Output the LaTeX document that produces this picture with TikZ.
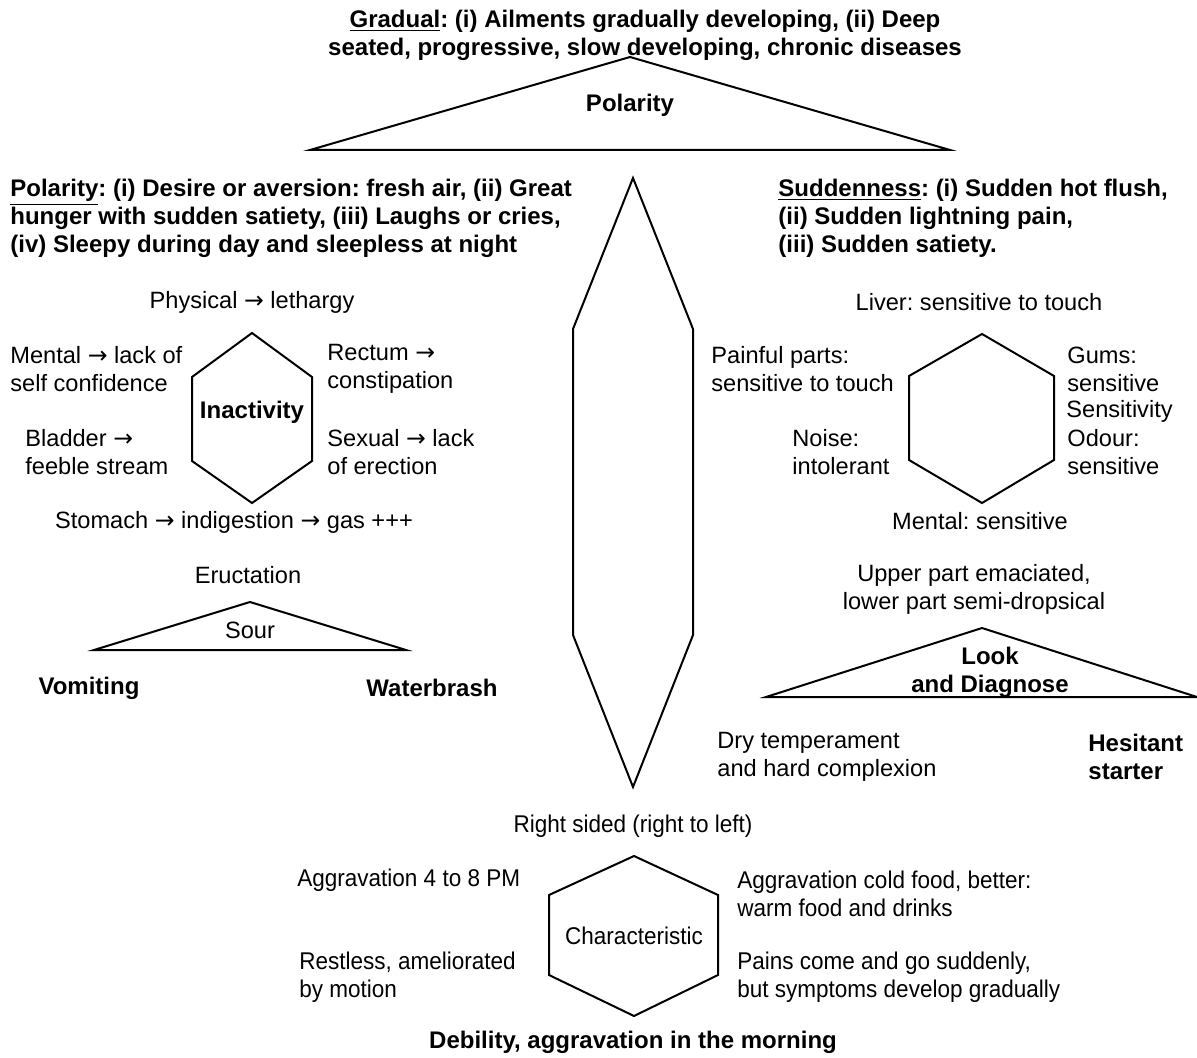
\documentclass[tikz,border=0pt]{standalone}
\usepackage{fontspec}
\setmainfont{Liberation Sans}
\newfontfamily\arrowfont{DejaVu Sans}
\newfontfamily\narrowfont[FakeStretch=0.93]{Liberation Sans}
\usepackage{tikz}
\frenchspacing
\newcommand{\ra}{{\arrowfont\char"2192}}
\tikzset{txt/.style={font=\fontsize{11.8}{14}\selectfont, inner sep=0pt, align=left},
  btxt/.style={font=\fontsize{12}{14}\selectfont\bfseries, inner sep=0pt, align=left},
  ctxt/.style={font=\fontsize{11.8}{14}\selectfont, inner sep=0pt, align=center},
  cbtxt/.style={font=\fontsize{12}{14}\selectfont\bfseries, inner sep=0pt, align=center},
  ntxt/.style={font=\narrowfont\fontsize{12.1}{14.2}\selectfont, inner sep=0pt, align=left},
  outline/.style={line width=1pt, line join=miter}}

\begin{document}
\begin{tikzpicture}[x=0.5pt,y=-0.5pt]
\useasboundingbox (0,0) rectangle (1197,1058);
\draw[outline] (310,150)--(630,57)--(950,150)--cycle;
\draw[outline] (633,178)--(693,329)--(693,635)--(633,787)--(573,635)--(573,329)--cycle;
\draw[outline] (252,333)--(312,377)--(312,461)--(252,503)--(192,461)--(192,377)--cycle;
\draw[outline] (982,334)--(1054,376)--(1054,460)--(982,503)--(909,460)--(909,376)--cycle;
\draw[outline] (634,856)--(718,895)--(718,975)--(634,1016)--(549,975)--(549,895)--cycle;
\draw[outline] (94,650)--(250,602)--(406,650)--cycle;
\draw[outline] (766,697)--(982,628)--(1197,697)--cycle;

\node[cbtxt] (gradual) at (645,35) {\underline{Gradual}: (i) Ailments gradually developing, (ii) Deep\\seated, progressive, slow developing, chronic diseases};
\node[cbtxt] (polarity) at (630,105) {Polarity};
\node[btxt, anchor=west] (polarityhead) at (10,218) {\underline{Polarity}: (i) Desire or aversion: fresh air, (ii) Great\\hunger with sudden satiety, (iii) Laughs or cries,\\(iv) Sleepy during day and sleepless at night};
\node[btxt, anchor=west] (suddenhead) at (778,218) {\underline{Suddenness}: (i) Sudden hot flush,\\(ii) Sudden lightning pain,\\(iii) Sudden satiety.};

\node[ctxt] (physical) at (252,302) {Physical \ra\ lethargy};
\node[cbtxt] (inactivity) at (252,412) {Inactivity};
\node[txt, anchor=west] (mental) at (10,369) {Mental \ra\ lack of\\self confidence};
\node[txt, anchor=west] (rectum) at (327,369) {Rectum \ra\\constipation};
\node[txt, anchor=west] (bladder) at (25,452) {Bladder \ra\\feeble stream};
\node[txt, anchor=west] (sexual) at (327,452) {Sexual \ra\ lack\\of erection};
\node[ctxt] (stomach) at (234,522) {Stomach \ra\ indigestion \ra\ gas +++};
\node[ctxt] (eructation) at (248,575) {Eructation};
\node[ctxt] (sour) at (250,630) {Sour};
\node[cbtxt] (vomiting) at (89,688) {Vomiting};
\node[cbtxt] (waterbrash) at (432,688) {Waterbrash};

\node[ctxt] (liver) at (979,302) {Liver: sensitive to touch};
\node[txt, anchor=west] (painful) at (711,369) {Painful parts:\\sensitive to touch};
\node[txt, anchor=west] (gums) at (1067,369) {Gums:\\sensitive};
\node[txt, anchor=west] (sensitivity) at (1066,411) {Sensitivity};
\node[txt, anchor=west] (odour) at (1067,452) {Odour:\\sensitive};
\node[txt, anchor=west] (noise) at (792,452) {Noise:\\intolerant};
\node[ctxt] (mentalsens) at (980,521) {Mental: sensitive};
\node[ctxt] (upper) at (974,589) {Upper part emaciated,\\lower part semi-dropsical};
\node[cbtxt] (look) at (990,672) {Look\\and Diagnose};
\node[txt, anchor=west] (dry) at (717,757) {Dry temperament\\and hard complexion};
\node[btxt, anchor=west] (hesitant) at (1088,757) {Hesitant\\starter};

\node[ntxt, align=center] (rightsided) at (633,826) {Right sided (right to left)};
\node[ntxt, align=center] (characteristic) at (634,936) {Characteristic};
\node[ntxt, anchor=west] (aggrpm) at (297,880) {Aggravation 4 to 8 PM};
\node[ntxt, anchor=west] (aggrcold) at (737,894) {Aggravation cold food, better:\\warm food and drinks};
\node[ntxt, anchor=west] (restless) at (299,977) {Restless, ameliorated\\by motion};
\node[ntxt, anchor=west] (pains) at (737,977) {Pains come and go suddenly,\\but symptoms develop gradually};
\node[cbtxt] (debility) at (633,1042) {Debility, aggravation in the morning};
\end{tikzpicture}
\end{document}
